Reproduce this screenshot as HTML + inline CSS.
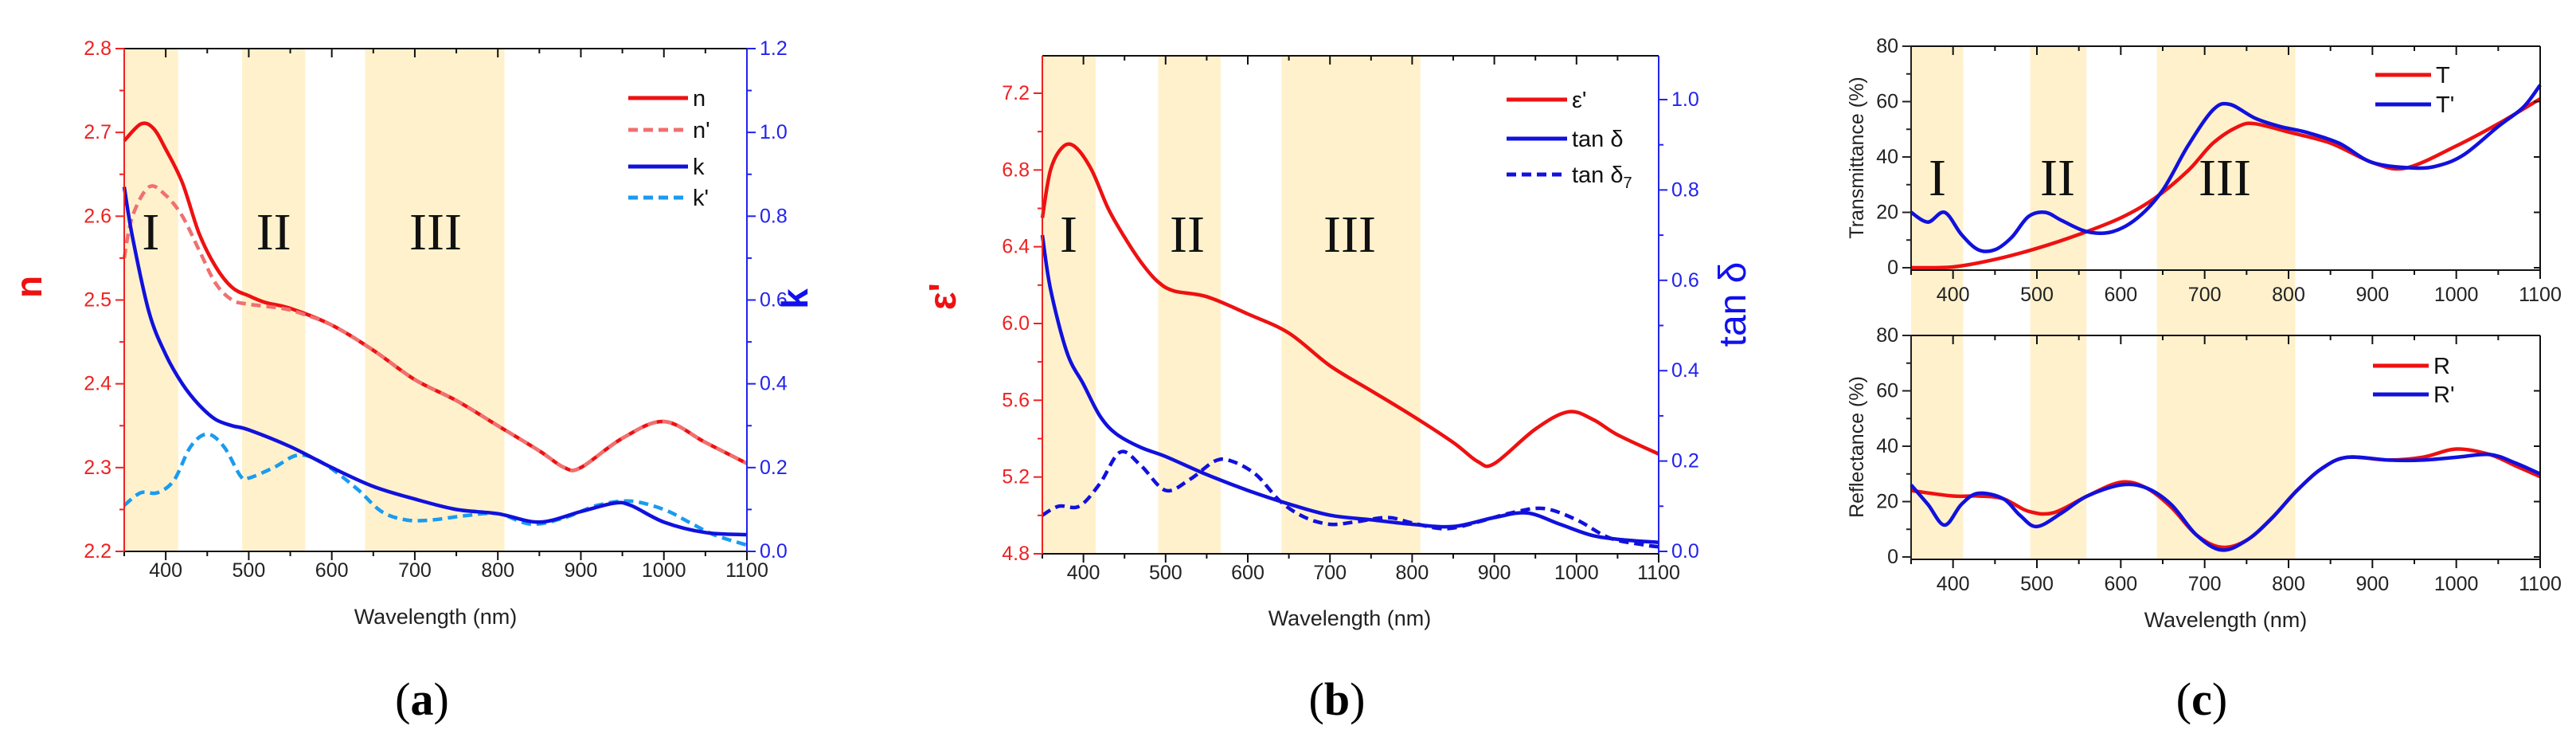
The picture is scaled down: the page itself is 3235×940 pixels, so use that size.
<!DOCTYPE html>
<html><head><meta charset="utf-8"><style>
html,body{margin:0;padding:0;background:#fff;}
svg{display:block;font-family:"Liberation Sans",Arial,sans-serif;}
</style></head><body>
<svg id="fig" width="3235" height="940" viewBox="0 0 3235 940" xmlns="http://www.w3.org/2000/svg"></svg>
<script>
// ---- data ----
const nX=[350,370,385,400,420,440,460,480,500,520,550,600,650,700,750,800,850,880,900,950,1000,1050,1100];
const nY=[2.69,2.71,2.705,2.68,2.64,2.58,2.54,2.515,2.505,2.497,2.49,2.47,2.44,2.405,2.38,2.35,2.32,2.30,2.30,2.335,2.355,2.33,2.305];
const npX=[350,360,380,400,420,440,460,480,500,540,560,600,650,700,750,800,850,880,900,950,1000,1050,1100];
const npY=[2.55,2.60,2.635,2.625,2.60,2.56,2.52,2.50,2.495,2.49,2.485,2.47,2.44,2.405,2.38,2.35,2.32,2.30,2.30,2.335,2.355,2.33,2.305];
const kX=[350,360,380,400,420,440,460,480,500,550,600,650,700,750,800,850,900,940,960,1000,1050,1100];
const kY=[0.87,0.75,0.57,0.47,0.40,0.35,0.315,0.30,0.29,0.25,0.20,0.155,0.125,0.10,0.09,0.07,0.095,0.115,0.11,0.07,0.045,0.04];
const kpX=[350,370,390,410,430,450,470,490,500,530,560,590,630,660,690,720,760,800,840,880,920,960,1000,1030,1060,1100];
const kpY=[0.11,0.14,0.14,0.17,0.25,0.28,0.25,0.18,0.175,0.20,0.23,0.21,0.15,0.095,0.075,0.075,0.085,0.09,0.065,0.08,0.11,0.12,0.10,0.07,0.04,0.015];
const eX=[350,360,375,390,410,430,450,470,490,510,550,600,650,700,750,800,850,880,900,950,990,1020,1050,1100];
const eY=[6.55,6.8,6.92,6.92,6.80,6.6,6.45,6.32,6.22,6.17,6.14,6.05,5.95,5.78,5.65,5.52,5.38,5.28,5.27,5.45,5.54,5.50,5.42,5.32];
const tdX=[350,360,380,400,420,440,470,500,550,600,650,700,750,800,850,900,940,980,1020,1060,1100];
const tdY=[0.70,0.58,0.44,0.37,0.30,0.26,0.23,0.21,0.17,0.135,0.105,0.08,0.07,0.06,0.055,0.075,0.085,0.06,0.035,0.025,0.02];
const t7X=[350,370,395,420,445,470,500,530,560,580,610,640,670,700,730,770,800,840,880,920,960,1000,1040,1080,1100];
const t7Y=[0.08,0.10,0.10,0.15,0.22,0.19,0.135,0.16,0.20,0.20,0.17,0.11,0.075,0.06,0.065,0.075,0.063,0.05,0.065,0.085,0.095,0.07,0.03,0.015,0.01];
const TX=[350,400,450,500,550,600,640,680,710,740,760,800,850,900,940,1000,1050,1100];
const TY=[0,0.3,3,7,12,18,25,35,45,51,52,49,45,38,36,44,52,61];
const TpX=[350,370,390,410,430,450,470,490,510,530,560,590,620,650,680,710,730,760,790,820,860,900,950,980,1010,1050,1080,1100];
const TpY=[20,16.5,20,12,6.5,6.5,11,18.5,20,17,13,13,18,28,44,57,59,54,51,49,45,38,36,37,41,51,58,66];
const RX=[350,400,430,460,490,520,560,600,630,660,690,720,750,780,810,840,870,920,960,1000,1040,1070,1100];
const RY=[24,22,22,21,16.5,16,22,27,25,18,8,3.5,6,14,24,32,36,35,36,39,37,33,29];
const RpX=[350,370,390,410,430,460,480,500,530,560,600,630,660,690,720,750,780,810,840,870,920,960,1000,1040,1070,1100];
const RpY=[26,19,11.5,19,23,21,15,11,16,22,26,25,19,8,2.5,6,14,24,32,36,35,35,36,37,34,30];
const xTicks=[400,500,600,700,800,900,1000,1100];
const nTicks=[2.2,2.3,2.4,2.5,2.6,2.7,2.8];
const kTicks=[0.0,0.2,0.4,0.6,0.8,1.0,1.2];
const eTicks=[4.8,5.2,5.6,6.0,6.4,6.8,7.2];
const tTicks=[0.0,0.2,0.4,0.6,0.8,1.0];
const pTicks=[0,20,40,60,80];
const bandsA=[[350,415],[492,568],[640,808]];
const bandsB=[[350,415],[491,567],[641,810]];
const bandsC=[[350,412],[492,559],[643,808]];

const NS="http://www.w3.org/2000/svg";
const svg=document.getElementById('fig');
function el(tag,attrs,parent,text){const e=document.createElementNS(NS,tag);for(const k in attrs)e.setAttribute(k,attrs[k]);if(text!==undefined)e.textContent=text;(parent||svg).appendChild(e);return e;}
function lin(d0,d1,r0,r1){return v=>r0+(v-d0)/(d1-d0)*(r1-r0);}
function smoothPath(xs,ys,sx,sy){
  const p=xs.map((x,i)=>[sx(x),sy(ys[i])]);
  let d='M'+p[0][0].toFixed(1)+','+p[0][1].toFixed(1);
  for(let i=0;i<p.length-1;i++){
    const p0=p[Math.max(0,i-1)],p1=p[i],p2=p[i+1],p3=p[Math.min(p.length-1,i+2)];
    const c1=[p1[0]+(p2[0]-p0[0])/6,p1[1]+(p2[1]-p0[1])/6];
    const c2=[p2[0]-(p3[0]-p1[0])/6,p2[1]-(p3[1]-p1[1])/6];
    d+=' C'+c1[0].toFixed(1)+','+c1[1].toFixed(1)+' '+c2[0].toFixed(1)+','+c2[1].toFixed(1)+' '+p2[0].toFixed(1)+','+p2[1].toFixed(1);
  }
  return d;
}
function curve(g,xs,ys,sx,sy,color,dash,name){
  const p=el('path',{d:smoothPath(xs,ys,sx,sy),fill:'none',stroke:color,'stroke-width':4.5,'stroke-dasharray':dash||'none','stroke-linejoin':'round'},g);
  
  
}
function bands(g,bs,sx,y0,y1){
  bs.forEach((b,i)=>{const r=el('rect',{x:sx(b[0]),y:y0,width:sx(b[1])-sx(b[0]),height:y1-y0,fill:'#fff1cc'},g);
  
  });
}
function roman(g,x,y,t){const e=el('text',{x:x,y:y,'font-family':'"Liberation Serif",serif','font-size':66,'text-anchor':'middle',fill:'#111'},g,t);
  
  }
function xAxis(g,sx,L,R,T,B,labels,labY){
  el('line',{x1:L,y1:B,x2:R,y2:B,stroke:'#111','stroke-width':2},g);
  el('line',{x1:L,y1:T,x2:R,y2:T,stroke:'#111','stroke-width':2},g);
  for(let v=350;v<=1100;v+=50){const maj=v%100===0;const x=sx(v);
    el('line',{x1:x,y1:B,x2:x,y2:B+(maj?11:6),stroke:'#111','stroke-width':2},g);
    el('line',{x1:x,y1:T,x2:x,y2:T+(maj?11:6),stroke:'#111','stroke-width':2},g);}
  if(labels){xTicks.forEach(v=>{const t=el('text',{x:sx(v),y:labY,'font-size':25,'text-anchor':'middle',fill:'#222'},g,String(v));
    
    });}
}
function yAxis(g,ticks,sy,x,side,color,T,B,fmt){
  el('line',{x1:x,y1:T,x2:x,y2:B,stroke:color,'stroke-width':2},g);
  const dir=side==='left'?-1:1;
  ticks.forEach(v=>{const y=sy(v);el('line',{x1:x,y1:y,x2:x+dir*11,y2:y,stroke:color,'stroke-width':2},g);
    const t=el('text',{x:x+dir*16,y:y+8,'font-size':25,'text-anchor':side==='left'?'end':'start',fill:color},g,fmt(v));
    
    });
  for(let i=0;i<ticks.length-1;i++){const y=sy((ticks[i]+ticks[i+1])/2);el('line',{x1:x,y1:y,x2:x+dir*6,y2:y,stroke:color,'stroke-width':2},g);}
}
function legend(g,x1,x2,items){
  items.forEach(it=>{
    const lg=el('g',{},g);
    
    
    el('line',{x1:x1,y1:it.y,x2:x2,y2:it.y,stroke:it.c,'stroke-width':5,'stroke-dasharray':it.d||'none'},lg);
    const t=el('text',{x:x2+6,y:it.y+10,'font-size':29,fill:'#111'},lg);
    t.innerHTML=it.t;
  });
}
function title(g,x,y,t,name){const e=el('text',{x:x,y:y,'font-size':27,'text-anchor':'middle',fill:'#222'},g,t);
  }
function caption(x,letter,name){const e=el('text',{x:x,y:897,'font-family':'"Liberation Serif",serif','font-size':58,'text-anchor':'middle',fill:'#000'});
  e.innerHTML='(<tspan font-weight="bold">'+letter+'</tspan>)';
  }

// ---- panel a ----
(function(){
  const g=el('g',{});
  const L=156,R=938,T=61,B=692;
  const sx=lin(350,1100,L,R),sy=lin(2.2,2.8,B,T),sk=lin(0,1.2,B,T);
  bands(g,bandsA,sx,T,B);
  roman(g,sx(382),313,'I');roman(g,sx(530),313,'II');roman(g,sx(725),313,'III');
  curve(g,nX,nY,sx,sy,'#ee1111',null,'n-line');
  curve(g,npX,npY,sx,sy,'#f07070','12 7','n-prime-line');
  curve(g,kpX,kpY,sx,sk,'#1a9bf0','12 7','k-prime-line');
  curve(g,kX,kY,sx,sk,'#1111dd',null,'k-line');
  xAxis(g,sx,L,R,T,B,true,724);
  yAxis(g,nTicks,sy,L,'left','#ee2222',T,B,v=>v.toFixed(1));
  yAxis(g,kTicks,sk,R,'right','#2222ee',T,B,v=>v.toFixed(1));
  title(g,547,783,'Wavelength (nm)','x-axis-title');
  const yl=el('text',{x:0,y:0,'font-size':46,'font-weight':'bold',fill:'#ee1111','text-anchor':'middle',transform:'translate(52,360) rotate(-90)'},g,'n');
  
  const yr=el('text',{x:0,y:0,'font-size':46,'font-weight':'bold',fill:'#1111ee','text-anchor':'middle',transform:'translate(1014,375) rotate(-90)'},g,'k');
  
  legend(g,789,864,[{id:'n',y:123,c:'#ee1111',t:'n'},{id:'n-prime',y:163,c:'#f07070',d:'12 7',t:"n'"},{id:'k',y:209,c:'#1111dd',t:'k'},{id:'k-prime',y:248,c:'#1a9bf0',d:'12 7',t:"k'"}]);
})();
// ---- panel b ----
(function(){
  const g=el('g',{});
  const L=1309,R=2083,T=70,B=695;
  const sx=lin(350,1100,L,R),sy=lin(4.8,7.2,B,117),st=lin(0,1.0,692,125);
  bands(g,bandsB,sx,T,B);
  roman(g,1342,316,'I');roman(g,1491,316,'II');roman(g,1695,316,'III');
  curve(g,eX,eY,sx,sy,'#ee1111',null,'epsilon-line');
  curve(g,t7X,t7Y,sx,st,'#1111dd','12 7','tan-delta7-line');
  curve(g,tdX,tdY,sx,st,'#1111dd',null,'tan-delta-line');
  xAxis(g,sx,L,R,T,B,true,727);
  yAxis(g,eTicks,sy,L,'left','#ee2222',T,B,v=>v.toFixed(1));
  yAxis(g,tTicks,st,R,'right','#2222ee',T,B,v=>v.toFixed(1));
  title(g,1695,785,'Wavelength (nm)','x-axis-title');
  const yl=el('text',{x:0,y:0,'font-size':48,'font-weight':'bold',fill:'#ee1111','text-anchor':'middle',transform:'translate(1200,372) rotate(-90)'},g,"ε'");
  
  const yr=el('text',{x:0,y:0,'font-size':48,fill:'#1111ee','text-anchor':'middle',transform:'translate(2192,382) rotate(-90)'},g,'tan δ');
  
  legend(g,1892,1968,[{id:'epsilon',y:125,c:'#ee1111',t:"ε'"},{id:'tan-delta',y:174,c:'#1111dd',t:'tan δ'},{id:'tan-delta7',y:219,c:'#1111dd',d:'12 7',t:'tan δ<tspan font-size="20" dy="7">7</tspan>'}]);
})();
// ---- panel c ----
(function(){
  const g=el('g',{});
  const L=2400,R=3190;
  const sx=lin(350,1100,L,R);
  const sT=lin(0,80,336,58),sR=lin(0,80,699,421);
  bands(g,bandsC,sx,58,702);
  roman(g,2433,245,'I');roman(g,2584,245,'II');roman(g,2794,245,'III');
  curve(g,TX,TY,sx,sT,'#ee1111',null,'T-line');
  curve(g,TpX,TpY,sx,sT,'#1111dd',null,'T-prime-line');
  curve(g,RX,RY,sx,sR,'#ee1111',null,'R-line');
  curve(g,RpX,RpY,sx,sR,'#1111dd',null,'R-prime-line');
  xAxis(g,sx,L,R,58,339,true,378);
  xAxis(g,sx,L,R,421,702,true,741);
  [[sT,58,339],[sR,421,702]].forEach(a=>{
    yAxis(g,pTicks,a[0],L,'left','#222',a[1],a[2],v=>String(v));
    el('line',{x1:R,y1:a[1],x2:R,y2:a[2],stroke:'#111','stroke-width':2},g);
    pTicks.forEach(v=>el('line',{x1:R,y1:a[0](v),x2:R-8,y2:a[0](v),stroke:'#111','stroke-width':2},g));
  });
  title(g,2795,787,'Wavelength (nm)','x-axis-title');
  const t1=el('text',{x:0,y:0,'font-size':25,fill:'#222','text-anchor':'middle',transform:'translate(2340,198) rotate(-90)'},g,'Transmittance (%)');
  
  const t2=el('text',{x:0,y:0,'font-size':25,fill:'#222','text-anchor':'middle',transform:'translate(2340,561) rotate(-90)'},g,'Reflectance (%)');
  
  legend(g,2983,3053,[{id:'T',y:94,c:'#ee1111',t:'T'},{id:'T-prime',y:131,c:'#1111dd',t:"T'"}]);
  legend(g,2980,3050,[{id:'R',y:459,c:'#ee1111',t:'R'},{id:'R-prime',y:495,c:'#1111dd',t:"R'"}]);
})();
caption(530,'a','caption-a');
caption(1679,'b','caption-b');
caption(2765,'c','caption-c');
</script>
</body></html>
